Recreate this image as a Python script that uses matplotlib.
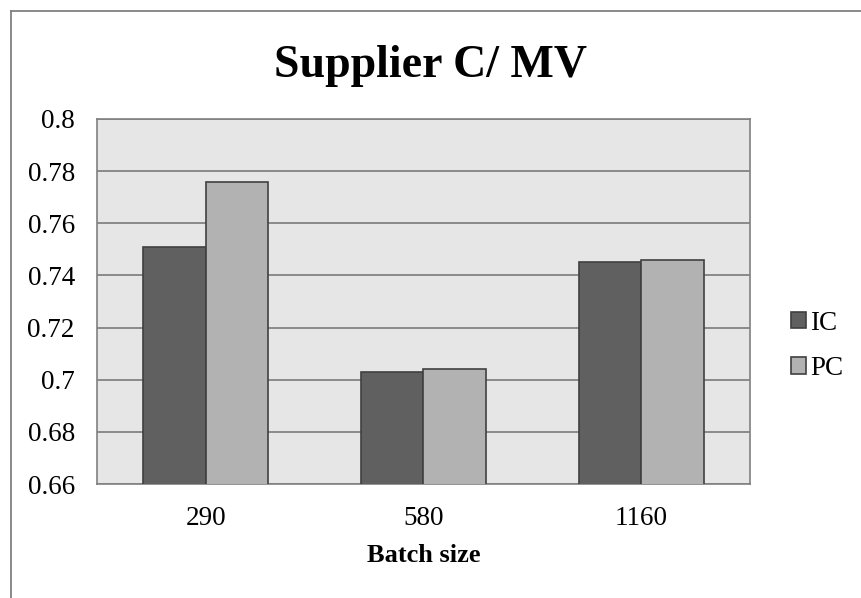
"""Supplier C / MV: IC vs PC by batch size."""

import matplotlib

matplotlib.use("Agg")
import matplotlib.pyplot as plt
import numpy as np
from matplotlib.lines import Line2D
from matplotlib.patches import Patch

batch_sizes = ["290", "580", "1160"]
ic_values = [0.751, 0.703, 0.745]
pc_values = [0.776, 0.704, 0.746]
y_ticks = [0.66, 0.68, 0.70, 0.72, 0.74, 0.76, 0.78, 0.80]
y_tick_labels = ["0.66", "0.68", "0.7", "0.72", "0.74", "0.76", "0.78", "0.8"]

plt.rcParams["font.family"] = ["Liberation Serif", "DejaVu Serif"]

IC_COLOR = "#606060"
PC_COLOR = "#b2b2b2"
EDGE = "#404040"
GRID = "#7a7a7a"

W, H = 862, 598
fig = plt.figure(figsize=(W / 100, H / 100), dpi=100)

# chart border (only left and top visible in the crop)
fig.add_artist(Line2D([11 / W, 11 / W], [0, 1 - 11 / H], color="#808080", lw=1.3,
                      transform=fig.transFigure))
fig.add_artist(Line2D([11 / W, 1], [1 - 11 / H, 1 - 11 / H], color="#808080", lw=1.3,
                      transform=fig.transFigure))

ax = fig.add_axes([97 / W, 1 - 484 / H, (750 - 97) / W, (484 - 119) / H])
ax.set_facecolor("#e6e6e6")

x = np.arange(len(batch_sizes))
width = 0.287
ax.bar(x - width / 2, ic_values, width, color=IC_COLOR, edgecolor=EDGE, linewidth=1.2,
       zorder=3, label="IC")
ax.bar(x + width / 2, pc_values, width, color=PC_COLOR, edgecolor=EDGE, linewidth=1.2,
       zorder=3, label="PC")

ax.set_xlim(-0.5, len(batch_sizes) - 0.5)
ax.set_ylim(0.66, 0.80)
ax.set_yticks(y_ticks)
ax.set_yticklabels(y_tick_labels)
ax.set_xticks(x)
ax.set_xticklabels(batch_sizes)
ax.tick_params(axis="both", length=0, labelsize=19.5)
ax.tick_params(axis="y", pad=16)
ax.tick_params(axis="x", pad=16)

ax.grid(axis="y", color=GRID, linewidth=1.2, zorder=1)
ax.set_axisbelow(True)
for side in ax.spines.values():
    side.set_color("#808080")
    side.set_linewidth(1.2)

ax.set_xlabel("Batch size", fontsize=19, fontweight="bold", labelpad=9)

fig.text(431 / W, 1 - 77 / H, "Supplier C/ MV", fontsize=33, fontweight="bold",
         ha="center", va="baseline")

handles = [
    Patch(facecolor=IC_COLOR, edgecolor=EDGE, linewidth=1.2),
    Patch(facecolor=PC_COLOR, edgecolor=EDGE, linewidth=1.2),
]
fig.legend(handles, ["IC", "PC"], loc="center left", bbox_to_anchor=(791 / W, 1 - 346 / H),
           frameon=False, fontsize=19.5, handlelength=0.55, handleheight=0.55,
           handletextpad=0.15, labelspacing=0.75, borderpad=0, borderaxespad=0)

fig.savefig("out.png", dpi=100)
